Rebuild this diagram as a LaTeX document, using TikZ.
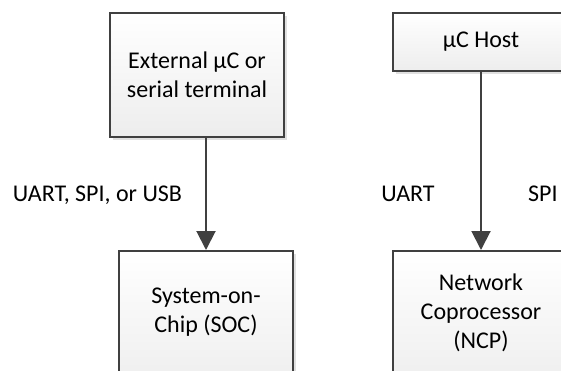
\documentclass[tikz,border=0pt]{standalone}
\usepackage{fontspec}
\setmainfont{Carlito}
\usetikzlibrary{shadows,arrows.meta}
\definecolor{edgec}{HTML}{404040}
\begin{document}
\begin{tikzpicture}[x=1pt,y=-1pt,
  box/.style={draw=edgec, line width=2pt, top color=white, bottom color=black!7,
    drop shadow={shadow xshift=3pt, shadow yshift=-3pt, fill=black!12, opacity=1},
    inner sep=0pt},
  txt/.style={font=\fontsize{24}{29}\selectfont, align=center, inner sep=0pt, text=black},
  link/.style={draw=edgec, line width=2pt, -{Triangle[width=19pt,length=19pt]}}]
\useasboundingbox (0,0) rectangle (561,371);
\clip (0,0) rectangle (561,371);
% boxes
\node[box, minimum width=174pt, minimum height=124pt] (ext) at (197,75) {};
\node[box, minimum width=174pt, minimum height=140pt] (soc) at (206,321) {};
\node[box, minimum width=176pt, minimum height=58pt] (host) at (481,42) {};
\node[box, minimum width=176pt, minimum height=140pt] (ncp) at (481,321) {};
% texts
\node[txt] (exttext) at (197,75) {External µC or\\serial terminal};
\node[txt] (soctext) at (206,312) {System-on-\\Chip (SOC)};
\node[txt] (hosttext) at (481,42) {µC Host};
\node[txt] (ncptext) at (481,313) {Network\\Coprocessor\\(NCP)};
% connectors
\draw[link] (soc.north |- ext.south) -- (soc.north);
\draw[link] (host.south) -- (ncp.north);
% labels
\node[txt, anchor=base] (lab1) at (97.5,201) {UART, SPI, or USB};
\node[txt, anchor=base] (lab2) at (408,201) {UART};
\node[txt, anchor=base west] (lab3) at (528,201) {SPI};
\end{tikzpicture}
\end{document}
